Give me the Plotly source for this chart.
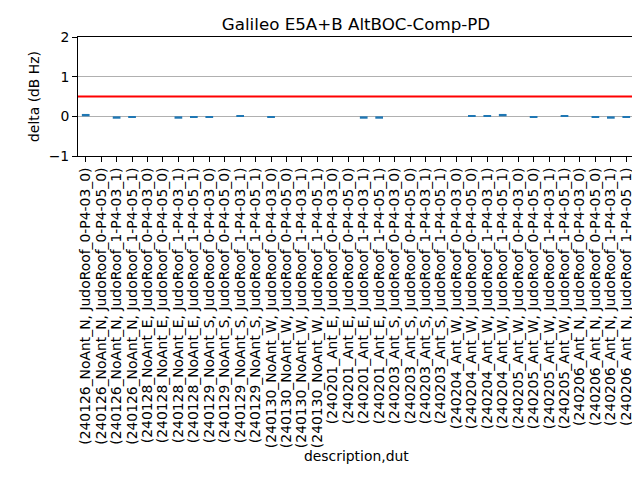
import plotly.graph_objects as go

descriptions = ["240126_NoAnt_N", "240128_NoAnt_E", "240129_NoAnt_S", "240130_NoAnt_W",
                "240201_Ant_E", "240203_Ant_S", "240204_Ant_W", "240205_Ant_W", "240206_Ant_N"]
duts = ["JudoRoof_0-P4-03_0", "JudoRoof_0-P4-05_0", "JudoRoof_1-P4-03_1", "JudoRoof_1-P4-05_1"]

labels = ["(%s, %s)" % (d, u) for d in descriptions for u in duts]

delta = [0.06, 0.0, -0.06, -0.03,
         0.0, 0.0, -0.06, -0.03,
         -0.03, 0.0, 0.03, 0.0,
         -0.03, 0.0, 0.0, 0.0,
         0.0, 0.0, -0.06, -0.06,
         0.0, 0.0, 0.0, 0.0,
         0.0, 0.03, 0.03, 0.06,
         0.0, -0.03, 0.0, 0.03,
         0.0, -0.03, -0.06, -0.03]

threshold = 0.5
y_ticks = [-1, 0, 1, 2]

font = "DejaVu Sans"

fig = go.Figure()
fig.add_trace(go.Bar(x=labels, y=delta, width=0.5, marker=dict(color="#1f77b4", line=dict(width=0))))

fig.add_shape(type="line", xref="paper", x0=0, x1=1, yref="y", y0=threshold, y1=threshold,
              line=dict(color="red", width=2))

# page body has an 8px margin, so the figure is 632x472 and shifted
fig.update_xaxes(type="category", tickmode="array", tickvals=labels, ticktext=labels,
                 tickangle=-90, ticks="outside", ticklen=5, tickcolor="black",
                 showline=True, linecolor="black", linewidth=1, mirror=True, showgrid=False,
                 tickfont=dict(family=font, size=13.9, color="black"), automargin=False)
fig.update_yaxes(range=[-1, 2], tickvals=y_ticks, ticks="outside", ticklen=5, tickcolor="black",
                 showline=True, linecolor="black", linewidth=1, mirror=True,
                 showgrid=True, gridcolor="#b0b0b0", gridwidth=1, zeroline=False,
                 tickfont=dict(family=font, size=13.9, color="black"),
                 title=dict(text="delta (dB Hz)", font=dict(family=font, size=13.9, color="black"), standoff=5),
                 automargin=False)

fig.update_layout(
    width=632, height=472,
    plot_bgcolor="white", paper_bgcolor="white",
    margin=dict(l=70, r=6, t=29, b=324),
    showlegend=False,
    title=dict(text="Galileo E5A+B AltBOC-Comp-PD", xref="paper", x=0.5, xanchor="center",
               y=0.966, yanchor="middle",
               font=dict(family=font, size=16.7, color="black")),
    annotations=[dict(text="description,dut", xref="paper", yref="paper", x=0.5, y=-2.52,
                      showarrow=False, xanchor="center", yanchor="middle",
                      font=dict(family=font, size=13.9, color="black"))],
)

fig.write_html("out.html")
